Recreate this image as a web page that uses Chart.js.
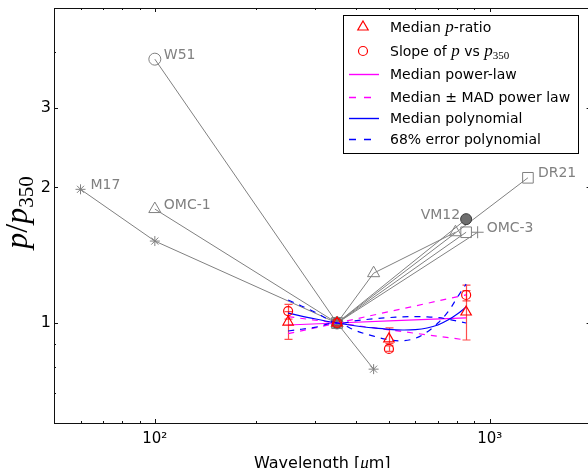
<!DOCTYPE html>
<html>
<head>
<meta charset="utf-8">
<script src="https://cdn.jsdelivr.net/npm/chart.js@4.4.0/dist/chart.umd.min.js"></script>
<style>
  html, body { margin: 0; padding: 0; background: #fff; overflow: hidden; }
  #wrap { position: relative; width: 592px; height: 468px; }
  canvas { display: block; }
</style>
</head>
<body>
<div id="wrap"><canvas id="myChart" width="592" height="468"></canvas></div>
<script>
'use strict';

// individual sources, p normalised to its 350 um value
var srcNames = ['W51', 'M17', 'OMC-1', 'VM12', 'OMC-3', 'DR21', ''];
var srcWave = [[100, 350], [60, 100, 350, 450], [100, 350, 450, 790], [350, 850], [350, 920], [350, 1300], [350, 850]];
var srcRatio = [[3.85, 1], [1.98, 1.52, 1, 0.79], [1.79, 1, 1.29, 1.59], [1, 1.70], [1, 1.59], [1, 2.10], [1, 1.59]];

// binned medians with error bars
var binWave = [250, 350, 500, 850];
var medRatio = [1.005, 1, 0.922, 1.058];
var medLo = [0.92, 1, 0.90, 0.917];
var medHi = [1.06, 1, 0.975, 1.18];
var slopeRatio = [1.063, 1, 0.876, 1.154];
var slopeLo = [1.02, 1, 0.865, 1.12];
var slopeHi = [1.10, 1, 0.89, 1.214];

// power-law fits
var powWave = [250, 350, 850];
var powMed = [0.99, 1, 1.027];
var powHi = [0.947, 1, 1.155];
var powLo = [1.033, 1, 0.917];

// polynomial fits
var fitWave = [250, 300, 350, 400, 450, 500, 550, 600, 650, 700, 750, 800, 850];
var polyMed = [1.052, 1.022, 1.0, 0.985, 0.975, 0.968, 0.965, 0.967, 0.975, 0.99, 1.015, 1.047, 1.085];
var polyHi = [1.125, 1.058, 1.0, 1.012, 1.022, 1.028, 1.032, 1.033, 1.032, 1.028, 1.02, 1.01, 1.0];
var polyLo = [0.96, 0.978, 1.0, 0.96, 0.935, 0.918, 0.913, 0.925, 0.955, 1.0, 1.058, 1.14, 1.22];

// axes
var xTickVals = [50, 60, 70, 80, 90, 100, 200, 300, 400, 500, 600, 700, 800, 900, 1000, 2000];
var xTickText = { 100: '10\u00b2', 1000: '10\u00b3' };
var yTickVals = [0.6, 0.7, 0.8, 0.9, 1, 2, 3, 4, 5];
var yTickText = { 1: '1', 2: '2', 3: '3' };

// styling for the sources (not data)
var GRAY = '#808080';
var srcStyle = [
  { ps: 'circle', r: 6 },
  { ps: 'star', r: 5 },
  { ps: 'triangle', r: 7 },
  { ps: 'circle', r: 5.5, fill: '#6e6e6e', edge: '#3a3a3a' },
  { ps: 'cross', r: 6 },
  { ps: 'rect', r: 7.5 },
  { ps: 'rect', r: 7.5 }
];
var labelAt = [0, 0, 0, 1, 1, 1, -1];
var labelOff = [[9, -4, 'left'], [10, -4, 'left'], [9, -4, 'left'], [-6, -4, 'right'], [9, -4, 'left'], [10, -4, 'left'], null];

function pts(xs, ys) {
  return xs.map(function(v, i) { return { x: v, y: ys[i] }; });
}

var datasets = [];
datasets.push({ data: pts(binWave, medRatio), showLine: false, pointStyle: 'triangle', pointRadius: 6,
  borderColor: '#ff0000', backgroundColor: 'rgba(0,0,0,0)', pointBorderWidth: 1.2 });
datasets.push({ data: pts(binWave, slopeRatio), showLine: false, pointStyle: 'circle', pointRadius: 4.5,
  borderColor: '#ff0000', backgroundColor: 'rgba(0,0,0,0)', pointBorderWidth: 1.2 });

function fitLine(xs, ys, color, dashed) {
  return { data: pts(xs, ys), showLine: true, pointRadius: 0, borderColor: color, borderWidth: 1.2,
    borderDash: dashed ? [6, 6] : [], tension: 0.35, fill: false };
}
datasets.push(fitLine(fitWave, polyMed, '#0000ff', false));
datasets.push(fitLine(fitWave, polyHi, '#0000ff', true));
datasets.push(fitLine(fitWave, polyLo, '#0000ff', true));
datasets.push(fitLine(powWave, powMed, '#ff00ff', false));
datasets.push(fitLine(powWave, powHi, '#ff00ff', true));
datasets.push(fitLine(powWave, powLo, '#ff00ff', true));

srcNames.forEach(function(name, i) {
  var st = srcStyle[i];
  datasets.push({ label: name, data: pts(srcWave[i], srcRatio[i]), showLine: true, borderColor: GRAY, borderWidth: 1,
    pointStyle: st.ps, pointRadius: st.r, pointBorderWidth: 1, pointBorderColor: st.edge || GRAY,
    pointBackgroundColor: st.fill || 'rgba(0,0,0,0)', tension: 0 });
});

var SANS = '"DejaVu Sans", sans-serif';
var SERIF = '"Liberation Serif", "DejaVu Serif", serif';

// draw text made of pieces with different fonts
function rich(ctx, x, y, parts, align) {
  var w = 0;
  parts.forEach(function(p) { ctx.font = p.f; w += ctx.measureText(p.t).width; });
  var cx = align === 'center' ? x - w / 2 : x;
  ctx.textAlign = 'left';
  parts.forEach(function(p) {
    ctx.font = p.f;
    ctx.fillText(p.t, cx, y + (p.dy || 0));
    cx += ctx.measureText(p.t).width;
  });
}

var decor = {
  id: 'decor',
  beforeDatasetsDraw: function(chart) {
    var ctx = chart.ctx, xs = chart.scales.x, ys = chart.scales.y;
    ctx.save();
    ctx.strokeStyle = 'rgba(255,0,0,0.7)';
    ctx.lineWidth = 1.2;
    [[medLo, medHi], [slopeLo, slopeHi]].forEach(function(pair) {
      binWave.forEach(function(w, i) {
        if (pair[0][i] === pair[1][i]) return;
        var px = Math.round(xs.getPixelForValue(w)) + 0.5;
        var y1 = ys.getPixelForValue(pair[0][i]), y2 = ys.getPixelForValue(pair[1][i]);
        ctx.beginPath();
        ctx.moveTo(px, y1); ctx.lineTo(px, y2);
        ctx.moveTo(px - 4, y1); ctx.lineTo(px + 4, y1);
        ctx.moveTo(px - 4, y2); ctx.lineTo(px + 4, y2);
        ctx.stroke();
      });
    });
    ctx.restore();
  },
  afterDatasetsDraw: function(chart) {
    var ctx = chart.ctx, a = chart.chartArea, xs = chart.scales.x, ys = chart.scales.y;
    ctx.save();
    // frame
    ctx.strokeStyle = '#111';
    ctx.lineWidth = 1;
    ctx.strokeRect(Math.round(a.left) + 0.5, Math.round(a.top) + 0.5, a.right - a.left, Math.round(a.bottom - a.top));
    // inward ticks on all four sides
    ctx.beginPath();
    xTickVals.forEach(function(v) {
      if (v <= 50 || v >= 2000) return;
      var len = xTickText[v] ? 4 : 2;
      var px = Math.round(xs.getPixelForValue(v)) + 0.5;
      ctx.moveTo(px, a.bottom); ctx.lineTo(px, a.bottom - len);
      ctx.moveTo(px, a.top); ctx.lineTo(px, a.top + len);
    });
    yTickVals.forEach(function(v) {
      if (v <= 0.6 || v >= 5) return;
      var len = yTickText[v] ? 4 : 2;
      var py = Math.round(ys.getPixelForValue(v)) + 0.5;
      ctx.moveTo(a.left, py); ctx.lineTo(a.left + len, py);
      ctx.moveTo(a.right, py); ctx.lineTo(a.right - len, py);
    });
    ctx.stroke();

    // source names
    ctx.fillStyle = GRAY;
    ctx.font = '14px ' + SANS;
    ctx.textBaseline = 'middle';
    srcNames.forEach(function(name, i) {
      if (!name || labelAt[i] < 0) return;
      var j = labelAt[i], o = labelOff[i];
      var px = xs.getPixelForValue(srcWave[i][j]), py = ys.getPixelForValue(srcRatio[i][j]);
      ctx.textAlign = o[2];
      ctx.fillText(name, px + o[0], py + o[1]);
    });

    // legend
    var L = a.left + 289, T = a.top + 7, W = 235, H = 138;
    ctx.fillStyle = '#fff';
    ctx.fillRect(L, T, W, H);
    ctx.strokeStyle = '#000';
    ctx.lineWidth = 1;
    ctx.strokeRect(Math.round(L) + 0.5, Math.round(T) + 0.5, W, H);
    var sans = '14px ' + SANS, mi = 'italic 17px ' + SERIF, sub = '11px ' + SERIF;
    var rows = [
      [{ t: 'Median ', f: sans }, { t: 'p', f: mi }, { t: '-ratio', f: sans }],
      [{ t: 'Slope of ', f: sans }, { t: 'p', f: mi }, { t: ' vs ', f: sans }, { t: 'p', f: mi }, { t: '350', f: sub, dy: 3 }],
      [{ t: 'Median power-law', f: sans }],
      [{ t: 'Median \u00b1 MAD power law', f: sans }],
      [{ t: 'Median polynomial', f: sans }],
      [{ t: '68% error polynomial', f: sans }]
    ];
    var rowY = [27, 51, 74, 97, 118, 139];
    rows.forEach(function(parts, k) {
      var cy = a.top + rowY[k] - 8;
      ctx.save();
      if (k < 2) {
        ctx.strokeStyle = '#ff0000';
        ctx.fillStyle = 'rgba(0,0,0,0)';
        ctx.lineWidth = 1.2;
        Chart.helpers.drawPoint(ctx, { pointStyle: k === 0 ? 'triangle' : 'circle', radius: k === 0 ? 6 : 4.5, rotation: 0, borderWidth: 1.2 }, L + 20, cy);
      } else {
        ctx.strokeStyle = k < 4 ? '#ff00ff' : '#0000ff';
        ctx.lineWidth = 1.4;
        ctx.setLineDash(k % 2 === 1 ? [7, 8] : []);
        ctx.beginPath();
        ctx.moveTo(L + 6, cy + 0.5); ctx.lineTo(L + 36, cy + 0.5);
        ctx.stroke();
      }
      ctx.restore();
      ctx.fillStyle = '#000';
      ctx.textBaseline = 'alphabetic';
      rich(ctx, L + 47, cy + 5, parts, 'left');
    });
    ctx.restore();
  },
  afterDraw: function(chart) {
    var ctx = chart.ctx, a = chart.chartArea;
    ctx.save();
    ctx.fillStyle = '#000';
    ctx.textBaseline = 'alphabetic';
    // x title
    rich(ctx, (a.left + a.right) / 2, 468, [
      { t: 'Wavelength [', f: '16px ' + SANS },
      { t: '\u03bc', f: 'italic 17px ' + SERIF },
      { t: 'm]', f: '16px ' + SANS }
    ], 'center');
    // y title
    ctx.translate(27, (a.top + a.bottom) / 2 - 3);
    ctx.rotate(-Math.PI / 2);
    rich(ctx, 0, 0, [
      { t: 'p', f: 'italic 32px ' + SERIF },
      { t: '/', f: '32px ' + SERIF },
      { t: 'p', f: 'italic 32px ' + SERIF },
      { t: '350', f: '21px ' + SERIF, dy: 6 }
    ], 'center');
    ctx.restore();
  }
};

function noPad(s) {
  s.paddingTop = 0; s.paddingBottom = 0; s.paddingLeft = 0; s.paddingRight = 0;
}

Chart.defaults.font.family = SANS;
var ctx = document.getElementById('myChart');
var myChart = new Chart(ctx, {
  type: 'scatter',
  data: { datasets: datasets },
  options: {
    responsive: false,
    animation: false,
    layout: { autoPadding: false, padding: { top: 8, right: 1.4, left: 0, bottom: 0 } },
    plugins: { legend: { display: false }, tooltip: { enabled: false } },
    scales: {
      x: {
        type: 'logarithmic', min: 50, max: 2000,
        grid: { display: false, drawTicks: false },
        border: { display: false },
        afterBuildTicks: function(s) { s.ticks = xTickVals.map(function(v) { return { value: v }; }); },
        afterFit: function(s) { s.height = 45; noPad(s); },
        ticks: { autoSkip: false, maxRotation: 0, minRotation: 0, padding: 7, color: '#000', font: { size: 15 },
          callback: function(v) { return xTickText[v] || ''; } }
      },
      y: {
        type: 'logarithmic', min: 0.6, max: 5,
        grid: { display: false, drawTicks: false },
        border: { display: false },
        afterBuildTicks: function(s) { s.ticks = yTickVals.map(function(v) { return { value: v }; }); },
        afterFit: function(s) { s.width = 54; noPad(s); },
        ticks: { autoSkip: false, padding: 3, color: '#000', font: { size: 16 },
          callback: function(v) { return yTickText[v] || ''; } }
      }
    }
  },
  plugins: [decor]
});
</script>
</body>
</html>
